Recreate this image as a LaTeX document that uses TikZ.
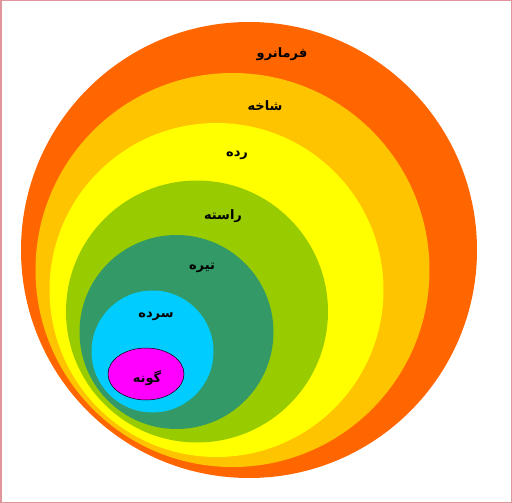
\documentclass[tikz,border=0pt]{standalone}
\usepackage{fontspec}
\newfontfamily\arabicfont[Script=Arabic]{DejaVu Sans}
\TeXXeTstate=1
\usepackage{tikz}
\definecolor{kingdomcol}{HTML}{FF6600}
\definecolor{phylumcol}{HTML}{FFC400}
\definecolor{classcol}{HTML}{FFFF00}
\definecolor{ordercol}{HTML}{99CC00}
\definecolor{familycol}{HTML}{339966}
\definecolor{genuscol}{HTML}{00CCFF}
\definecolor{speciescol}{HTML}{FF00FF}
\definecolor{framecol}{HTML}{E0959D}
\tikzset{lbl/.style={font=\arabicfont\bfseries\fontsize{13}{15}\selectfont, inner sep=1pt}}

\begin{document}
\begin{tikzpicture}[x=1pt,y=-1pt]
\useasboundingbox (0,0) rectangle (512,503);
\draw[framecol, line width=1.5pt] (0.75,0.75) rectangle (511.25,502.25);

\fill[kingdomcol] (249,250) circle (228);
\fill[phylumcol] (232.5,270) circle (197);
\fill[classcol] (216.5,290) circle (167);
\fill[ordercol] (197,311.5) circle (131);
\fill[familycol] (176.5,332) circle (97);
\fill[genuscol] (152.5,351.5) circle (61);
\draw[fill=speciescol, line width=0.5pt] (146,374) ellipse (38 and 26);

\node[lbl] (k) at (282,54) {\beginR فرمانرو\endR};
\node[lbl] (p) at (265,106) {\beginR شاخه\endR};
\node[lbl] (c) at (237,155) {\beginR رده\endR};
\node[lbl] (o) at (223,216) {\beginR راسته\endR};
\node[lbl] (f) at (202,268) {\beginR تیره\endR};
\node[lbl] (g) at (156,316) {\beginR سرده\endR};
\node[lbl] (s) at (147,378) {\beginR گونه\endR};
\end{tikzpicture}
\end{document}
